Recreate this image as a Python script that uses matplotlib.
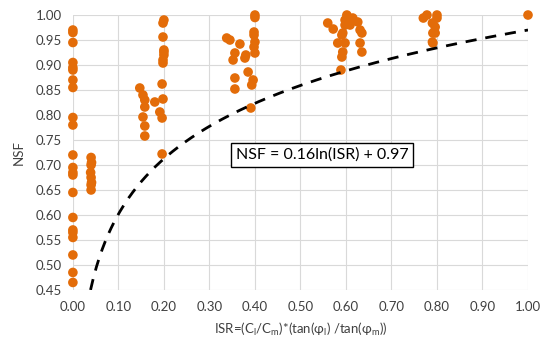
import numpy as np
import matplotlib
matplotlib.use("Agg")
import matplotlib.pyplot as plt
from matplotlib.ticker import FormatStrFormatter, MultipleLocator

# ISR / NSF observations, grouped by ISR cluster
isr_values = [
    # ISR = 0
    0.0, 0.0, 0.0, 0.0, 0.0, 0.0, 0.0, 0.0, 0.0, 0.0, 0.0, 0.0, 0.0, 0.0,
    0.0, 0.0, 0.0, 0.0, 0.0, 0.0, 0.0, 0.0,
    # ISR ~ 0.04
    0.04, 0.041, 0.04, 0.039, 0.04, 0.041, 0.04, 0.04,
    # ISR ~ 0.15 - 0.20
    0.147, 0.154, 0.158, 0.158, 0.154, 0.158, 0.158, 0.18, 0.191, 0.196,
    0.198, 0.196, 0.198, 0.198, 0.2, 0.198, 0.198, 0.2, 0.196, 0.2, 0.2,
    # ISR ~ 0.34 - 0.40
    0.338, 0.345, 0.367, 0.356, 0.352, 0.356, 0.356, 0.378, 0.38, 0.385,
    0.396, 0.393, 0.391, 0.4, 0.4, 0.398, 0.398, 0.4, 0.398, 0.4,
    # ISR ~ 0.56 - 0.64
    0.56, 0.572, 0.602, 0.598, 0.598, 0.593, 0.591, 0.582, 0.598, 0.593,
    0.591, 0.589, 0.615, 0.626, 0.631, 0.635, 0.631, 0.635, 0.609,
    # ISR ~ 0.77 - 0.80
    0.77, 0.778, 0.8, 0.79, 0.796, 0.791, 0.796, 0.79, 0.791, 0.8,
    # ISR = 1
    1.0,
]
nsf_values = [
    0.97, 0.965, 0.945, 0.905, 0.895, 0.89, 0.87, 0.855, 0.795, 0.78, 0.72,
    0.695, 0.685, 0.68, 0.645, 0.595, 0.57, 0.565, 0.555, 0.52, 0.485, 0.465,
    0.715, 0.705, 0.70, 0.685, 0.675, 0.665, 0.66, 0.65,
    0.854, 0.84, 0.83, 0.816, 0.796, 0.778, 0.758, 0.826, 0.806, 0.794,
    0.832, 0.862, 0.904, 0.91, 0.926, 0.956, 0.984, 0.99, 0.722, 0.93, 0.92,
    0.954, 0.95, 0.942, 0.924, 0.91, 0.874, 0.852, 0.914, 0.92, 0.886,
    0.87, 0.86, 0.814, 1.0, 0.995, 0.966, 0.96, 0.946, 0.936, 0.924,
    0.984, 0.972, 1.0, 0.99, 0.98, 0.964, 0.96, 0.944, 0.944, 0.926,
    0.916, 0.89, 0.994, 0.986, 0.97, 0.964, 0.944, 0.926, 0.98,
    0.994, 1.0, 1.0, 0.984, 0.976, 0.964, 0.964, 0.946, 0.944, 0.994,
    1.0,
]

# Logarithmic fit: NSF = a ln(ISR) + b
fit_a = 0.16
fit_b = 0.97
fit_label = "NSF = 0.16ln(ISR) + 0.97"

plt.rcParams["font.family"] = ["Lato", "DejaVu Sans"]

fig = plt.figure(figsize=(5.48, 3.46), dpi=100)
ax = fig.add_axes([0.133, 0.162, 0.8305, 0.7946])

ax.scatter(isr_values, nsf_values, s=48, color="#E36C09", edgecolors="none",
           zorder=3, clip_on=False)

y_min, y_max = 0.45, 1.00
x_start = np.exp((y_min - fit_b) / fit_a)
xs = np.linspace(x_start, 1.0, 300)
ax.plot(xs, fit_a * np.log(xs) + fit_b, color="black", lw=2.0,
        ls=(0, (4, 3.2)), zorder=4)

ax.text(0.547, 0.72, fit_label, fontsize=11.5, ha="center", va="center",
        zorder=5,
        bbox=dict(boxstyle="square,pad=0.3", facecolor="white",
                  edgecolor="black", linewidth=1.0))

ax.set_xlim(0, 1.0)
ax.set_ylim(y_min, y_max)
ax.xaxis.set_major_locator(MultipleLocator(0.1))
ax.yaxis.set_major_locator(MultipleLocator(0.05))
ax.xaxis.set_major_formatter(FormatStrFormatter("%.2f"))
ax.yaxis.set_major_formatter(FormatStrFormatter("%.2f"))
ax.grid(True, color="#D9D9D9", lw=0.8, zorder=0)
ax.set_axisbelow(True)
for s in ax.spines.values():
    s.set_visible(False)
ax.tick_params(length=0, labelsize=9.5, labelcolor="#404040", pad=8)

ax.set_xlabel(r"ISR=(C$_{\mathregular{l}}$/C$_{\mathregular{m}}$)*(tan(φ$_{\mathregular{l}}$) /tan(φ$_{\mathregular{m}}$))",
              fontsize=9.5, color="#404040", labelpad=6)
ax.set_ylabel("NSF", fontsize=9.5, color="#404040", labelpad=8)

fig.savefig("out.png", dpi=100, facecolor="white")
